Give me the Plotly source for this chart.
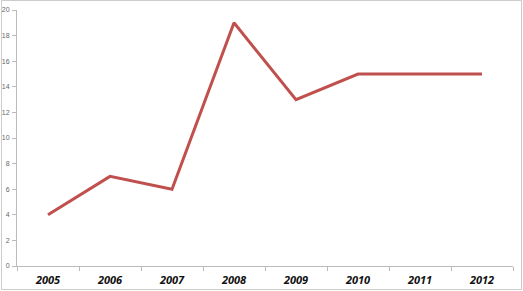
import plotly.graph_objects as go

years = ["2005", "2006", "2007", "2008", "2009", "2010", "2011", "2012"]
values = [4, 7, 6, 19, 13, 15, 15, 15]
y_ticks = [0, 2, 4, 6, 8, 10, 12, 14, 16, 18, 20]

W, H = 523, 291
ml, mr, mt, mb = 17, 10, 10, 25
pw, ph = W - ml - mr, H - mt - mb

fig = go.Figure()
fig.add_trace(go.Scatter(x=years, y=values, mode="lines",
                         line=dict(color="#C0504D", width=3)))

fig.update_layout(
    width=W, height=H,
    margin=dict(l=ml, r=mr, t=mt, b=mb, autoexpand=False),
    paper_bgcolor="white", plot_bgcolor="white",
    showlegend=False,
    xaxis=dict(type="category", tickson="boundaries", ticks="outside",
               ticklen=4, tickcolor="#BBBBBB", showline=True, linecolor="#BBBBBB",
               linewidth=1, showgrid=False, range=[-0.5, 7.5], automargin=False,
               ticklabelstandoff=4,
               tickfont=dict(family="Open Sans, Liberation Sans, sans-serif", size=11,
                             color="#111111", weight="bold", style="italic")),
    yaxis=dict(range=[0, 20], tickvals=y_ticks, ticks="outside", ticklen=4,
               tickcolor="#BBBBBB", showline=True, linecolor="#BBBBBB", linewidth=1,
               showgrid=False, zeroline=False, automargin=False, ticklabelstandoff=1,
               tickfont=dict(family="Liberation Sans, sans-serif", size=7, color="#666666")),
)

fig.add_shape(type="rect", xref="paper", yref="paper",
              x0=-(ml - 1.5) / pw, x1=1 + (mr - 1.5) / pw,
              y0=-(mb - 1.5) / ph, y1=1 + (mt - 0.5) / ph,
              line=dict(color="#CCCCCC", width=1), fillcolor="rgba(0,0,0,0)",
              layer="below")

fig.write_html("out.html")
